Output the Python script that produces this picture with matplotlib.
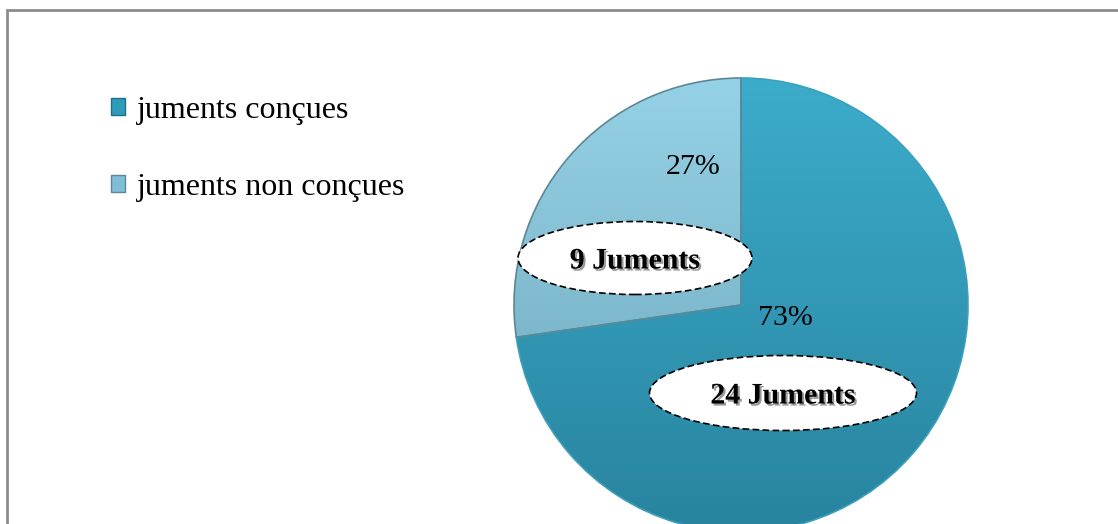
import matplotlib.pyplot as plt
import numpy as np
from matplotlib.patches import Ellipse, Rectangle, Patch
import matplotlib.patheffects as pe

# data
labels = ["juments conçues", "juments non conçues"]
counts = [24, 9]
count_labels = ["24 Juments", "9 Juments"]

plt.rcParams['font.family'] = ['Liberation Serif', 'DejaVu Serif']

W, H = 1118, 524
fig = plt.figure(figsize=(W / 100, H / 100), dpi=100)
ax = fig.add_axes([0, 0, 1, 1])

# pie in pixel coords (y up)
cx, cy, r = 741, H - 305, 227
base_cols = ["#35A3C1", "#86C6DC"]
top_cols = [np.array([0x3C, 0xAC, 0xCB]) / 255, np.array([0x96, 0xD2, 0xE7]) / 255]
bot_cols = [np.array([0x28, 0x84, 0x9F]) / 255, np.array([0x6A, 0xA3, 0xB6]) / 255]
edge_cols = ["#3A9FBD", "#5E8796"]

wedges, _ = ax.pie(counts, center=(cx, cy), radius=r, startangle=90,
                   counterclock=False, colors=base_cols,
                   wedgeprops=dict(linewidth=1.2))
t = np.linspace(0, 1, 256)[:, None, None]
for i, w in enumerate(wedges):
    w.set_edgecolor(edge_cols[i])
    # vertical gradient clipped to the wedge
    img = (1 - t) * top_cols[i][None, None, :] + t * bot_cols[i][None, None, :]
    im = ax.imshow(img, extent=(cx - r, cx + r, cy - r, cy + r), origin='upper',
                   aspect='auto', zorder=w.get_zorder() + 0.1)
    im.set_clip_path(w)
    w.set_zorder(w.get_zorder() + 0.2)
    w.set_facecolor('none')

# percent labels
total = sum(counts)
pct = [f"{c / total * 100:.0f}%" for c in counts]
pct_pos = [(785, 318), (693, 167)]
for p, (x, y) in zip(pct, pct_pos):
    ax.text(x, H - y, p, fontsize=21.5, ha='center', va='center', color='black', zorder=5)

# count bubbles
bub = [((783, 393), 267, 75), ((635, 258), 234, 73)]
for lab, ((x, y), bw, bh) in zip(count_labels, bub):
    ax.add_patch(Ellipse((x, H - y), bw, bh, facecolor='white', edgecolor='black',
                         linestyle=(0, (4, 2)), linewidth=1.2, zorder=6))
    ax.text(x, H - y - 3, lab, fontsize=21.5, fontweight='bold', ha='center', va='center',
            zorder=7, path_effects=[pe.SimplePatchShadow(offset=(1.5, -1.5), shadow_rgbFace='#555555', alpha=0.6),
                                    pe.Normal()])

# outer border
ax.add_patch(Rectangle((7, -20), W + 20, H - 10 + 20, facecolor='none',
                       edgecolor='#8C8C8C', linewidth=2, zorder=10))

ax.set_xlim(0, W)
ax.set_ylim(0, H)
ax.set_aspect('auto')
ax.axis('off')

# legend
handles = [Patch(facecolor="#2E9BBA", edgecolor="#1F6F86"),
           Patch(facecolor="#7FBFD5", edgecolor="#5E8796")]
fig.legend(handles, labels, loc='upper left', bbox_to_anchor=(111 / W, 1 - 96 / H),
           frameon=False, fontsize=23, handlelength=0.45, handleheight=0.45,
           handletextpad=0.35, labelspacing=1.5, borderpad=0, borderaxespad=0)

fig.savefig("out.png", dpi=100)
